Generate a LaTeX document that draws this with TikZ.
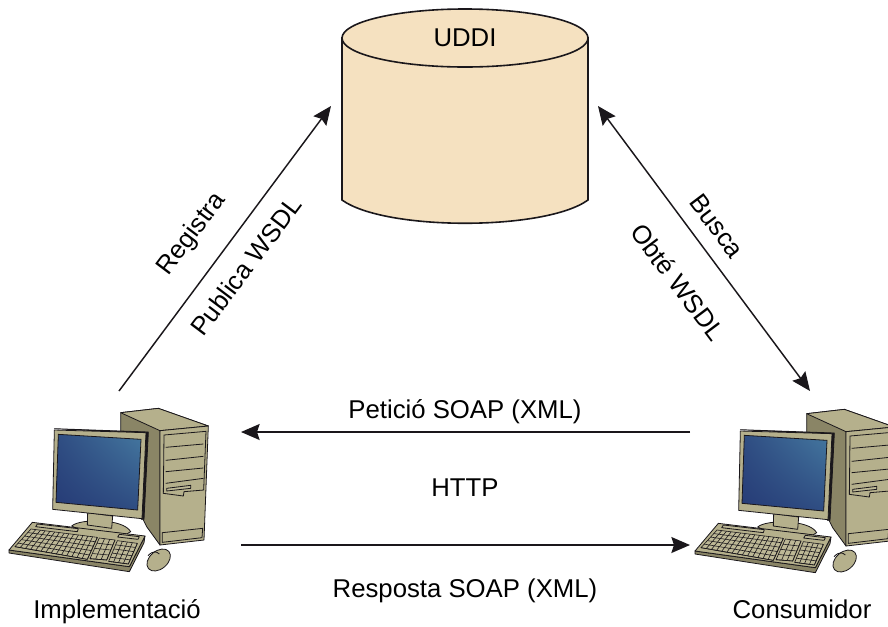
\documentclass[tikz,border=0pt]{standalone}
\usepackage{fontspec}
\setmainfont{Liberation Sans}
\usetikzlibrary{arrows.meta}
\usetikzlibrary{calc}
\usetikzlibrary{shadings}

\definecolor{dbfill}{HTML}{F5E1C0}
\definecolor{linecol}{HTML}{1A171B}
\definecolor{casefront}{HTML}{B5B08C}
\definecolor{caseside}{HTML}{8A8566}
\definecolor{casekey}{HTML}{BDB896}
\definecolor{screenlo}{HTML}{263B76}
\definecolor{screenhi}{HTML}{44779F}

\tikzset{
  pcpart/.style={draw=linecol,line width=0.6pt,line join=round,fill=casefront},
  pcline/.style={draw=linecol,line width=0.6pt},
  pc/.pic={
    \begin{scope}[x=0.25pt,y=-0.25pt]
    % tower
    \filldraw[pcpart,fill=caseside] (362,68) -- (475,55) -- (625,108) -- (480,122) -- (480,465) -- (440,410) -- (362,250) -- cycle;
    \filldraw[pcpart] (362,68) -- (475,55) -- (625,108) -- (480,122) -- cycle;
    \filldraw[pcpart] (480,122) -- (625,108) -- (612,450) -- (480,465) -- cycle;
    \draw[pcline] (492,135) -- (618,124) -- (611,300) -- (552,305) -- (550,318) -- (490,310) -- cycle;
    \foreach \ya/\yb in {172/162,211/199,245/234,280/265}
      \draw[pcline] (497,\ya) -- (610,\yb);
    \filldraw[pcpart,fill=casekey] (500,295) -- (572,286) -- (572,295) -- (500,303) -- cycle;
    \draw[pcline] (487,428) -- (608,415) -- (606,443) -- (487,457) -- cycle;
    % base and neck
    \filldraw[pcpart] (215,408) .. controls (240,385) and (370,385) .. (392,425) -- (380,432) -- (230,415) -- cycle;
    \filldraw[pcpart] (263,368) -- (338,378) -- (335,415) -- (262,405) -- cycle;
    % monitor
    \filldraw[pcpart,fill=linecol] (163,116) -- (445,126) -- (432,388) -- (424,388) -- (434,130) -- cycle;
    \filldraw[pcpart] (163,120) -- (438,128) -- (426,386) -- (158,358) -- cycle;
    \shade[lower left=screenlo,upper right=screenhi,lower right=screenlo!70!screenhi,upper left=screenlo!70!screenhi] (175,133) -- (423,148) -- (413,360) -- (168,337) -- cycle;
    \draw[pcline] (175,133) -- (423,148) -- (413,360) -- (168,337) -- cycle;
    % keyboard
    \filldraw[pcpart,fill=caseside] (27,480) -- (27,489) -- (388,545) -- (432,458) -- (435,438) -- (388,530) -- cycle;
    \filldraw[pcpart] (97,397) -- (435,438) -- (388,530) -- (27,480) -- cycle;
    \filldraw[pcpart,fill=casekey] (112,402) -- (235,416) -- (232,425) -- (107,410) -- cycle;
    \filldraw[pcpart,fill=casekey] (358,433) -- (418,440) -- (414,448) -- (353,441) -- cycle;
    \foreach \blk/\ax/\ay/\bx/\by/\cx/\cy/\dx/\dy/\nu/\nv in {
      main/93/417/292/442/262/508/45/470/14/5,
      arrows/298/444/345/450/320/510/270/506/3/4,
      num/352/452/412/460/385/522/326/514/4/5}{
      \fill[casekey,draw=linecol,line width=0.45pt] (\ax,\ay) -- (\bx,\by) -- (\cx,\cy) -- (\dx,\dy) -- cycle;
      \foreach \i in {1,...,\nu}
        \draw[linecol,line width=0.45pt] ($(\ax,\ay)!{\i/\nu}!(\bx,\by)$) -- ($(\dx,\dy)!{\i/\nu}!(\cx,\cy)$);
      \foreach \j in {1,...,\nv}
        \draw[linecol,line width=0.45pt] ($(\ax,\ay)!{\j/\nv}!(\dx,\dy)$) -- ($(\bx,\by)!{\j/\nv}!(\cx,\cy)$);
    }
    % mouse
    \filldraw[pcpart,rotate around={40:(476,510)}] (476,510) ellipse [x radius=40,y radius=27];
    \draw[pcline] (444,497) .. controls (460,480) and (470,485) .. (478,492);
    \end{scope}
  }
}

\begin{document}
\begin{tikzpicture}[x=0.75pt,y=-0.75pt,font=\fontsize{19.3pt}{23pt}\selectfont,text=black,
  link/.style={draw=linecol,line width=1.1pt},
  tip/.tip={Stealth[length=14pt,width=12pt,inset=2pt]}]
\tikzstyle{caption}=[inner sep=0pt,anchor=center]
\clip (0,0) rectangle (888,626);
\useasboundingbox (0,0) rectangle (888,626);

% database
\draw[draw=linecol,line width=1.2pt,fill=dbfill] (342,38) -- (342,200) .. controls (385,231) and (545,231) .. (588,200) -- (588,38) -- cycle;
\draw[draw=linecol,line width=1.2pt,fill=dbfill] (465,38) ellipse [x radius=123,y radius=29];
\node [caption] (uddi) at (465,38) {UDDI};

% computers
\pic at (0,390) {pc};
\pic at (686,391) {pc};

% end points
\coordinate (regfrom) at (119,391);
\coordinate (regto) at (331,106);
\coordinate (busfrom) at (598,106);
\coordinate (busto) at (810,391);
\coordinate (reqfrom) at (690,432);
\coordinate (reqto) at (241,432);
\coordinate (resfrom) at (241,545);
\coordinate (resto) at (690,545);

\draw[link,-tip] (regfrom) -- (regto);
\draw[link,tip-tip] (busfrom) -- (busto);
\draw[link,-tip] (reqfrom) -- (reqto);
\draw[link,-tip] (resfrom) -- (resto);

\node [caption,rotate=53] (registra) at (192,234) {Registra};
\node [caption,rotate=53] (publica) at (246,266) {Publica WSDL};
\node [caption,rotate=-53] (busca) at (717,226) {Busca};
\node [caption,rotate=-53] (obte) at (678,282) {Obté WSDL};
\node [caption] (peticio) at (465,412) {Petició SOAP (XML)};
\node [caption] (http) at (465,488) {HTTP};
\node [caption] (resposta) at (465,591) {Resposta SOAP (XML)};
\node [caption] (impl) at (117,612) {Implementació};
\node [caption] (cons) at (802,609) {Consumidor};
\end{tikzpicture}
\end{document}
